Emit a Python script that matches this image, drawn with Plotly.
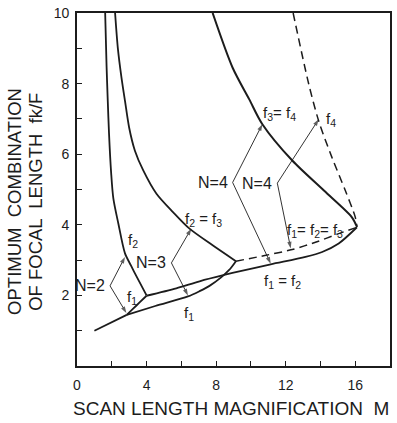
import plotly.graph_objects as go

# ---------------- data ----------------
# lowest line, N=2 region (f1 = f2 for small M)
base_x = [1.0, 2.86]
base_y = [1.0, 1.45]
# N=3 f1 curve (continues from base, up to the N=3 joint)
n3_f1_x = [2.86, 4.5, 6.38, 7.05, 7.62, 8.29, 8.75, 9.14]
n3_f1_y = [1.45, 1.70, 1.97, 2.12, 2.27, 2.51, 2.72, 2.97]
# N=2 f1 branch
n2_f1_x = [2.86, 3.2, 3.6, 4.0]
n2_f1_y = [1.45, 1.61, 1.80, 1.99]
# N=2 f2 curve
n2_f2_x = [1.62, 1.70, 1.77, 1.84, 1.96, 2.09, 2.38, 2.76, 3.10, 3.43, 4.0]
n2_f2_y = [10.0, 8.5, 7.5, 6.6, 5.5, 4.75, 4.03, 3.19, 2.85, 2.53, 2.0]
# f1 = f2 line (solid) from N=2 joint to M=16
f12_x = [4.0, 5.71, 7.05, 8.47, 9.33, 11.14, 13.14, 14.1, 15.05, 16.1]
f12_y = [1.99, 2.20, 2.40, 2.58, 2.68, 2.88, 3.09, 3.23, 3.47, 3.93]
# N=3 f2 = f3 curve
n3_f23_x = [2.19, 2.35, 2.55, 2.76, 3.0, 3.33, 3.81, 4.57, 5.52, 6.47, 7.8, 9.14]
n3_f23_y = [10.0, 9.0, 8.2, 7.51, 6.75, 6.1, 5.54, 4.88, 4.36, 3.89, 3.42, 2.97]
# f1 = f2 = f3 (dashed)
f123_x = [9.14, 10.8, 12.38, 13.8, 15.05, 16.1]
f123_y = [2.97, 3.13, 3.30, 3.52, 3.75, 3.93]
# N=4 f3 = f4 curve
n4_f34_x = [7.8, 8.95, 9.9, 10.66, 12.38, 14.2, 15.8, 16.1]
n4_f34_y = [10.0, 8.45, 7.56, 6.85, 5.82, 4.97, 4.22, 3.94]
# N=4 f4 curve (dashed)
n4_f4_x = [12.43, 13.33, 13.9, 14.66, 15.43, 16.0, 16.1]
n4_f4_y = [10.0, 7.98, 6.94, 5.91, 4.97, 4.22, 3.94]

# bracket labels: text, vertex, upper tip, lower tip
n_labels = ["N=2", "N=3", "N=4", "N=4"]
vertex_x = [1.9, 5.43, 8.95, 11.52]
vertex_y = [2.27, 2.92, 5.2, 5.18]
up_x = [2.76, 6.57, 10.66, 13.9]
up_y = [3.09, 3.89, 6.85, 6.99]
down_x = [2.84, 6.38, 11.14, 12.29]
down_y = [1.50, 2.0, 2.90, 3.33]

# curve labels
curve_labels = ["f<sub>2</sub>", "f<sub>1</sub>", "f<sub>2</sub> = f<sub>3</sub>", "f<sub>1</sub>",
                "f<sub>3</sub>= f<sub>4</sub>", "f<sub>4</sub>", "f<sub>1</sub>= f<sub>2</sub>= f<sub>3</sub>",
                "f<sub>1</sub> = f<sub>2</sub>"]
curve_lx = [3.2, 3.15, 7.3, 6.42, 11.62, 14.6, 13.67, 11.8]
curve_ly = [3.56, 1.95, 4.15, 1.48, 7.15, 6.99, 3.85, 2.39]

x_tickvals = [0, 4, 8, 12, 16]
x_ticktext = ["0", "4", "8", "12", "16"]
x_minor = [2, 6, 10, 14]
y_tickvals = [2, 4, 6, 8, 10]
y_ticktext = ["2", "4", "6", "8", "10"]
y_minor = [1, 3, 5, 7, 9]

x_title = "SCAN LENGTH MAGNIFICATION  M"
y_title_1 = "OPTIMUM  COMBINATION"
y_title_2 = "OF FOCAL  LENGTH  fk/F"

# ---------------- figure ----------------
INK = "#1c1c1c"
FONT = "Liberation Sans"
fig = go.Figure()

def curve(x, y, width=1.8, dash="solid", shape="spline"):
    fig.add_trace(go.Scatter(x=x, y=y, mode="lines",
                             line=dict(color=INK, width=width, dash=dash, shape=shape,
                                       smoothing=0.8),
                             hoverinfo="skip", showlegend=False))

curve(base_x, base_y, shape="linear")
curve(n3_f1_x, n3_f1_y)
curve(n2_f1_x, n2_f1_y)
curve(n2_f2_x, n2_f2_y)
curve(f12_x, f12_y)
curve(n3_f23_x, n3_f23_y)
curve(f123_x, f123_y, width=1.5, dash="8px,5px")
curve(n4_f34_x, n4_f34_y, width=2.0)
curve(n4_f4_x, n4_f4_y, width=1.5, dash="8px,5px")

# bracket arrows (shaft + arrowhead marker at the tip)
for vx, vy, ux, uy, dx, dy in zip(vertex_x, vertex_y, up_x, up_y, down_x, down_y):
    for tx, ty in ((ux, uy), (dx, dy)):
        fig.add_trace(go.Scatter(
            x=[vx, tx], y=[vy, ty], mode="lines+markers",
            line=dict(color=INK, width=0.9),
            marker=dict(symbol="arrow", size=[0, 7], color=INK, angleref="previous",
                        line=dict(width=0)),
            hoverinfo="skip", showlegend=False))

ann = []
for t, vx, vy in zip(n_labels, vertex_x, vertex_y):
    ann.append(dict(x=vx, y=vy, xref="x", yref="y", text=t, showarrow=False,
                    xanchor="right", yanchor="middle", xshift=-3,
                    font=dict(family=FONT, size=16, color=INK)))

for t, lx, ly in zip(curve_labels, curve_lx, curve_ly):
    ann.append(dict(x=lx, y=ly, xref="x", yref="y", text=t, showarrow=False,
                    xanchor="center", yanchor="middle",
                    font=dict(family=FONT, size=15, color=INK)))

ann.append(dict(x=0.493, y=-0.12, xref="paper", yref="paper", text=x_title, showarrow=False,
                xanchor="center", yanchor="middle", font=dict(family=FONT, size=19, color=INK)))
ann.append(dict(x=-0.198, y=0.465, xref="paper", yref="paper", text=y_title_1, showarrow=False,
                textangle=-90, xanchor="center", yanchor="middle",
                font=dict(family=FONT, size=18.5, color=INK)))
ann.append(dict(x=-0.131, y=0.465, xref="paper", yref="paper", text=y_title_2, showarrow=False,
                textangle=-90, xanchor="center", yanchor="middle",
                font=dict(family=FONT, size=18.5, color=INK)))

axis_common = dict(showgrid=False, zeroline=False, showline=True, linecolor=INK, linewidth=1.6,
                   mirror=True, ticks="inside", ticklen=5, tickwidth=1.2, tickcolor=INK,
                   tickfont=dict(family=FONT, size=14, color=INK))

fig.update_layout(
    width=397, height=423,
    margin=dict(l=77, r=5, t=12, b=57),
    paper_bgcolor="white", plot_bgcolor="white",
    xaxis=dict(range=[0, 18], tickvals=x_tickvals, ticktext=x_ticktext,
               minor=dict(tickmode="array", tickvals=x_minor, ticks="inside", ticklen=5,
                          tickwidth=1.2, tickcolor=INK, showgrid=False),
               ticklabelstandoff=5, **axis_common),
    yaxis=dict(range=[0, 10], tickvals=y_tickvals, ticktext=y_ticktext,
               minor=dict(tickmode="array", tickvals=y_minor, ticks="inside", ticklen=5,
                          tickwidth=1.2, tickcolor=INK, showgrid=False),
               ticklabelstandoff=3, **axis_common),
    annotations=ann,
)

fig.write_html("out.html")
